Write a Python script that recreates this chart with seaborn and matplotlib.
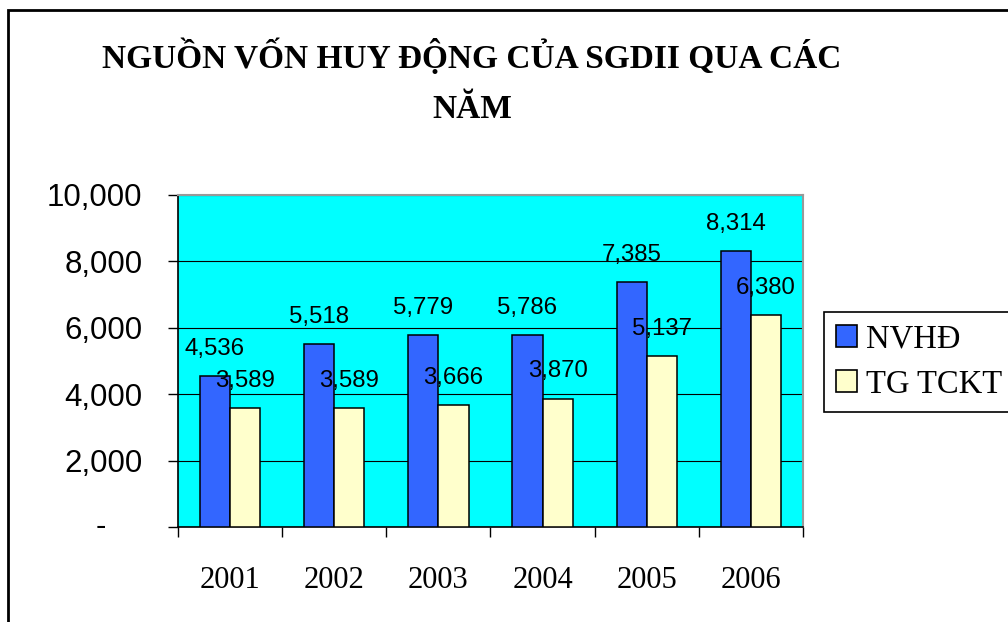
import matplotlib
matplotlib.use("Agg")
import matplotlib.pyplot as plt
import matplotlib.transforms as mtransforms
from matplotlib.patches import Rectangle
import pandas as pd
import seaborn as sns

years = ['2001', '2002', '2003', '2004', '2005', '2006']
nvhd = [4536, 5518, 5779, 5786, 7385, 8314]
tg_tckt = [3589, 3589, 3666, 3870, 5137, 6380]
series_names = ['NVHĐ', 'TG TCKT']
colors = ['#3366FF', '#FFFFCC']
y_ticks = [0, 2000, 4000, 6000, 8000, 10000]

df = pd.DataFrame({
    'Năm': years * 2,
    'Giá trị': nvhd + tg_tckt,
    'Loại': [series_names[0]] * len(years) + [series_names[1]] * len(years),
})

sns.set_style("white")
plt.rcParams['font.family'] = ['Liberation Sans', 'DejaVu Sans']
plt.rcParams['text.color'] = 'black'
plt.rcParams['xtick.color'] = 'black'
plt.rcParams['ytick.color'] = 'black'
plt.rcParams['axes.labelcolor'] = 'black'

fig = plt.figure(figsize=(10.08, 6.22), dpi=100)
ax = fig.add_axes([178 / 1008, 1 - 527 / 622, 625 / 1008, 332 / 622])
ax.set_facecolor('#00FFFF')

sns.barplot(data=df, x='Năm', y='Giá trị', hue='Loại', hue_order=series_names,
            palette=colors, width=0.58, edgecolor='black', linewidth=1.1,
            saturation=1, ax=ax, zorder=3)

ax.set_ylim(0, 10000)
ax.set_xlim(-0.5, len(years) - 0.5)
ax.set_yticks(y_ticks)
ax.set_yticklabels(['' if v == 0 else f'{v:,}' for v in y_ticks])
ax.yaxis.grid(True, color='black', linewidth=0.8, zorder=1)
ax.set_axisbelow(True)
ax.set_xlabel('')
ax.set_ylabel('')

# dấu "-" cho giá trị 0 (kiểu định dạng kế toán của Excel)
off = mtransforms.ScaledTranslation(-0.72, 0, fig.dpi_scale_trans)
ax.text(0, 0, '-', transform=ax.get_yaxis_transform() + off,
        ha='right', va='center', fontsize=22.5, color='black')

ax.tick_params(axis='y', direction='out', length=7.2, width=1, colors='black',
               labelsize=22.5, pad=18.5, left=True)
ax.tick_params(axis='x', which='major', length=0, pad=28, labelsize=22,
               labelcolor='black')
for lbl in ax.get_xticklabels():
    lbl.set_fontfamily('Liberation Serif')
ax.set_xticks([i - 0.5 for i in range(len(years) + 1)], minor=True)
ax.tick_params(axis='x', which='minor', direction='out', length=7.2, width=1,
               color='black', bottom=True)

for side in ['left', 'bottom']:
    ax.spines[side].set_color('black')
    ax.spines[side].set_linewidth(1.2)
for side in ['top', 'right']:
    ax.spines[side].set_color('#999999')
    ax.spines[side].set_linewidth(1.5)
    ax.spines[side].set_visible(True)

for cont in ax.containers:
    for bar in cont:
        h = bar.get_height()
        ax.annotate(f'{h:,.0f}', (bar.get_x() + bar.get_width() / 2, h),
                    xytext=(0, 19.5), textcoords='offset points',
                    ha='center', va='center', fontsize=17.3, color='black',
                    zorder=5)

handles, labels = ax.get_legend_handles_labels()
leg = ax.legend(handles, labels, loc='upper left',
                bbox_to_anchor=(824 / 1008, 1 - 312 / 622),
                bbox_transform=fig.transFigure,
                prop={'family': 'Liberation Serif', 'size': 23.5},
                frameon=True, fancybox=False, edgecolor='black',
                borderaxespad=0, borderpad=0.37, handlelength=0.65,
                handleheight=0.65, handletextpad=0.28, labelspacing=0.45)
leg.get_frame().set_linewidth(1.2)
leg.get_frame().set_alpha(1)
for t in leg.get_texts():
    t.set_color('black')
for h in leg.legend_handles:
    h.set_edgecolor('black')
    h.set_linewidth(1.2)

fig.text(472 / 1008, 1 - 68 / 622, 'NGUỒN VỐN HUY ĐỘNG CỦA SGDII QUA CÁC',
         ha='center', va='baseline', fontsize=24, fontweight='bold',
         fontfamily='Liberation Serif', color='black')
fig.text(472 / 1008, 1 - 118 / 622, 'NĂM',
         ha='center', va='baseline', fontsize=24, fontweight='bold',
         fontfamily='Liberation Serif', color='black')

fig.add_artist(Rectangle((8 / 1008, -0.2), 1.2, 1.2 - 10 / 622,
                         transform=fig.transFigure, fill=False,
                         edgecolor='black', linewidth=2))

fig.savefig('out.png', dpi=100)
